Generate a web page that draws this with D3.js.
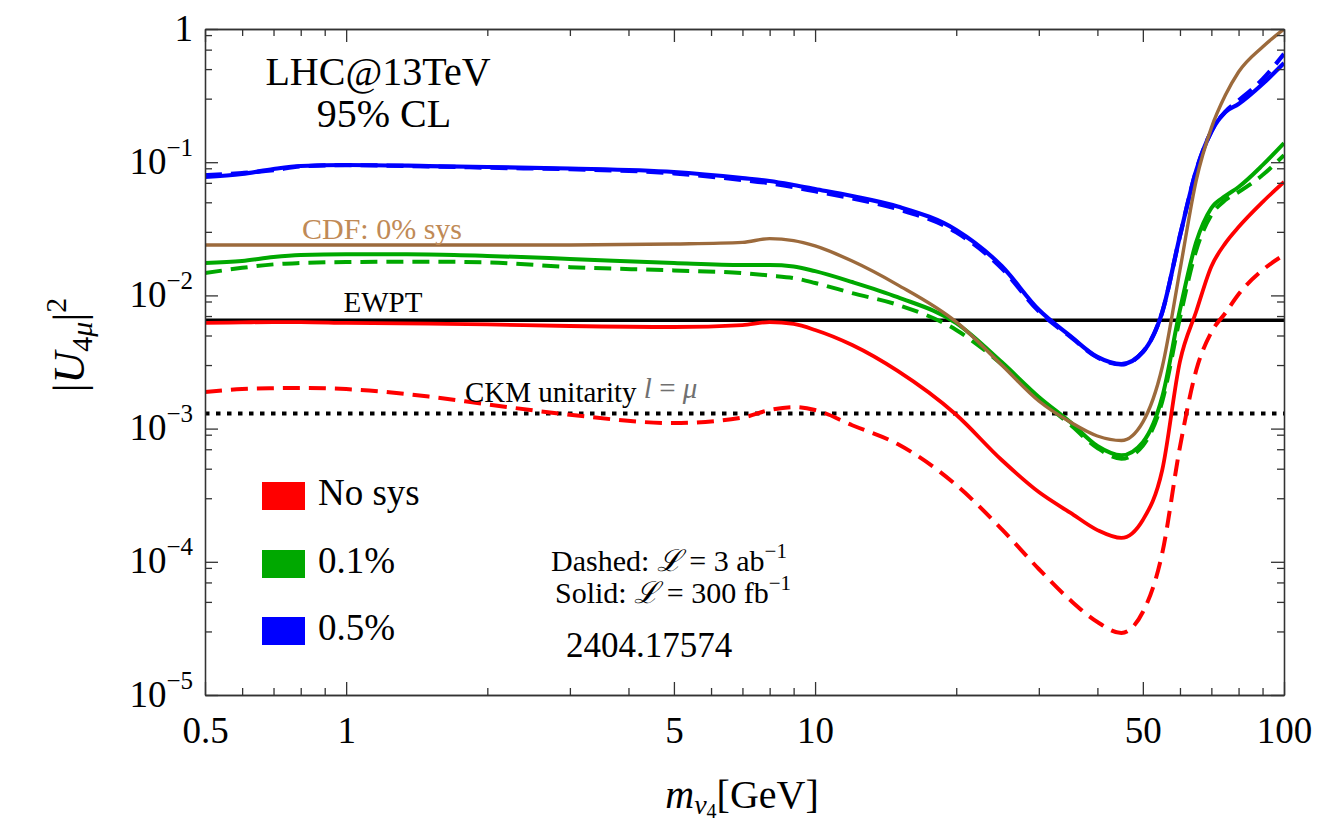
<!DOCTYPE html>
<html>
<head>
<meta charset="utf-8">
<script src="https://cdn.jsdelivr.net/npm/d3@7"></script>
<style>
  body { margin: 0; background: #fff; }
  svg { font-family: "Liberation Serif", "DejaVu Serif", serif; }
  .axis path, .axis line { stroke: #333; stroke-width: 1.3; }
  .axis text { fill: #000; font-family: "Liberation Serif", "DejaVu Serif", serif; }
</style>
</head>
<body>
<div id="chart"></div>
<script>
// m_nu4 grid [GeV]
const mass = [0.5, 0.6, 0.7, 0.8, 1, 1.5, 2, 3, 5, 7, 8, 9, 10, 12, 15, 20, 25, 30, 35, 40, 45, 50, 55, 60, 65, 70, 75, 80, 90, 100];

// |U_4mu|^2 limits
const noSysSolid = [0.00621, 0.00627, 0.00631, 0.00631, 0.00621, 0.00613, 0.00605, 0.00589, 0.00579, 0.00599, 0.00631, 0.00610, 0.00550, 0.00424, 0.00271, 0.00127, 0.000581, 0.000334, 0.000234, 0.000173, 0.000151, 0.000206, 0.000489, 0.0032, 0.0076, 0.0165, 0.0247, 0.0326, 0.0502, 0.0711];
const noSysDashed = [0.00188, 0.00198, 0.00201, 0.00202, 0.00198, 0.00174, 0.00152, 0.00127, 0.00110, 0.00121, 0.00138, 0.00145, 0.00138, 0.00106, 0.000766, 0.000377, 0.000176, 0.0000883, 0.0000516, 0.0000353, 0.0000292, 0.000042, 0.000116, 0.00073, 0.00275, 0.0053, 0.00738, 0.0102, 0.0155, 0.0201];
const sys01Solid = [0.0175, 0.0181, 0.0194, 0.0201, 0.0204, 0.0203, 0.0198, 0.0188, 0.0175, 0.0169, 0.0169, 0.0165, 0.0152, 0.0126, 0.0097, 0.0062, 0.00316, 0.00173, 0.00112, 0.00074, 0.00063, 0.00079, 0.00173, 0.0078, 0.0252, 0.0453, 0.0558, 0.0651, 0.095, 0.139];
const sys01Dashed = [0.0147, 0.0161, 0.0171, 0.0175, 0.0178, 0.0179, 0.0177, 0.0163, 0.0154, 0.0147, 0.0141, 0.0135, 0.0124, 0.0104, 0.0085, 0.0055, 0.00304, 0.00168, 0.00107, 0.000715, 0.000595, 0.000745, 0.00160, 0.0068, 0.0219, 0.0401, 0.0520, 0.0597, 0.0801, 0.113];
const sys05Solid = [0.0774, 0.0815, 0.0889, 0.0936, 0.0953, 0.0936, 0.092, 0.0897, 0.0844, 0.076, 0.0722, 0.0674, 0.0629, 0.0557, 0.0465, 0.031, 0.0166, 0.0078, 0.00496, 0.00345, 0.00305, 0.00376, 0.0075, 0.028, 0.087, 0.17, 0.238, 0.273, 0.386, 0.555];
const sys05Dashed = [0.080, 0.083, 0.087, 0.0930, 0.0950, 0.0930, 0.0910, 0.0885, 0.0825, 0.0735, 0.0695, 0.0650, 0.0605, 0.0535, 0.0445, 0.0298, 0.0160, 0.0076, 0.00490, 0.00342, 0.00303, 0.00376, 0.0075, 0.028, 0.087, 0.17, 0.24, 0.29, 0.42, 0.65];
const cdfSolid = [0.0239, 0.0239, 0.0239, 0.0239, 0.0239, 0.0239, 0.0239, 0.0239, 0.0243, 0.0250, 0.0267, 0.0258, 0.0235, 0.0181, 0.0120, 0.00632, 0.0030, 0.00161, 0.00112, 0.00088, 0.000814, 0.00112, 0.0029, 0.0155, 0.0735, 0.181, 0.319, 0.476, 0.733, 1.0];

const ewptLimit = 6.5e-3;
const ckmLimit = 1.3e-3;

const xMajor = [0.5, 1, 5, 10, 50, 100];
const xMinor = [0.6, 0.7, 0.8, 0.9, 2, 3, 4, 6, 7, 8, 9, 20, 30, 40, 60, 70, 80, 90];
const yMajor = [1e-5, 1e-4, 1e-3, 1e-2, 1e-1, 1];
const yMinorMantissa = [0.3, 0.5, 0.7, 0.9];
const yExponents = ["−5", "−4", "−3", "−2", "−1", ""];

const legendNames = ["No sys", "0.1%", "0.5%"];
const legendColors = ["#ff0000", "#00a800", "#0000ff"];

const W = 1342, H = 830;
const margin = {top: 29, right: 58, bottom: 135, left: 205};

const svg = d3.select("#chart").append("svg")
    .attr("width", W)
    .attr("height", H);

const x = d3.scaleLog().domain([0.5, 100]).range([margin.left, W - margin.right]);
const y = d3.scaleLog().domain([1e-5, 1]).range([H - margin.bottom, margin.top]);

const yMinor = [];
yMajor.slice(1).forEach(function(v) {
    yMinorMantissa.forEach(function(m) { yMinor.push(v * m); });
});

svg.append("clipPath").attr("id", "plotclip")
    .append("rect")
    .attr("x", x.range()[0]).attr("y", y.range()[1])
    .attr("width", x.range()[1] - x.range()[0])
    .attr("height", y.range()[0] - y.range()[1]);

const plot = svg.append("g").attr("clip-path", "url(#plotclip)");

// reference limits
plot.append("line")
    .attr("x1", x(0.5)).attr("x2", x(100))
    .attr("y1", y(ewptLimit)).attr("y2", y(ewptLimit))
    .attr("stroke", "#000").attr("stroke-width", 3.6);

plot.append("line")
    .attr("x1", x(0.5)).attr("x2", x(100))
    .attr("y1", y(ckmLimit)).attr("y2", y(ckmLimit))
    .attr("stroke", "#000").attr("stroke-width", 4)
    .attr("stroke-dasharray", "4.5,6.5");

const series = [
    {values: noSysSolid, color: "#ff0000", dash: null, w: 3.8},
    {values: noSysDashed, color: "#ff0000", dash: "17,9", w: 4},
    {values: sys01Solid, color: "#00a800", dash: null, w: 4},
    {values: sys01Dashed, color: "#00a800", dash: "17,9", w: 4},
    {values: sys05Solid, color: "#0000ff", dash: null, w: 4.2},
    {values: sys05Dashed, color: "#0000ff", dash: "17,9", w: 4.2},
    {values: cdfSolid, color: "#9c6a3c", dash: null, w: 3.4}
];

const line = d3.line()
    .x(function(d) { return x(d[0]); })
    .y(function(d) { return y(d[1]); })
    .curve(d3.curveMonotoneX);

series.forEach(function(s) {
    plot.append("path")
        .datum(mass.map(function(m, i) { return [m, s.values[i]]; }))
        .attr("d", line)
        .attr("fill", "none")
        .attr("stroke", s.color)
        .attr("stroke-width", s.w)
        .attr("stroke-dasharray", s.dash)
        .attr("stroke-linejoin", "round");
});

// axes: frame with inward ticks
function addAxis(axisFn, scale, pos, values, size) {
    const g = svg.append("g").attr("class", "axis")
        .attr("transform", pos)
        .call(axisFn(scale).tickValues(values).tickSizeInner(-size).tickSizeOuter(0).tickFormat(""));
    return g;
}

const bottomT = "translate(0," + y.range()[0] + ")";
const topT = "translate(0," + y.range()[1] + ")";
const leftT = "translate(" + x.range()[0] + ",0)";
const rightT = "translate(" + x.range()[1] + ",0)";

addAxis(d3.axisBottom, x, bottomT, xMinor, 7);
const xAxisMajor = addAxis(d3.axisBottom, x, bottomT, xMajor, 13);
addAxis(d3.axisTop, x, topT, xMinor, 7);
addAxis(d3.axisTop, x, topT, xMajor, 13);
addAxis(d3.axisLeft, y, leftT, yMinor, 7);
const yAxisMajor = addAxis(d3.axisLeft, y, leftT, yMajor, 13);
addAxis(d3.axisRight, y, rightT, yMinor, 7);
addAxis(d3.axisRight, y, rightT, yMajor, 13);

xAxisMajor.selectAll(".tick text")
    .attr("y", 0).attr("dy", 0)
    .attr("transform", "translate(0,48)")
    .style("font-size", "37px")
    .text(function(d) { return d3.format("~g")(d); });

yAxisMajor.selectAll(".tick text")
    .attr("x", -12).attr("dy", 0)
    .attr("y", 11)
    .attr("text-anchor", "end")
    .style("font-size", "37px")
    .text(null)
    .each(function(d, i) {
        const t = d3.select(this);
        if (d === 1) { t.text("1"); return; }
        t.append("tspan").text("10");
        t.append("tspan").attr("dy", -18).style("font-size", "25px").text(yExponents[i]);
    });

// axis titles
const xt = svg.append("text")
    .attr("x", 742).attr("y", 808)
    .attr("text-anchor", "middle")
    .style("font-size", "40px");
xt.append("tspan").style("font-style", "italic").text("m");
xt.append("tspan").attr("dy", 6).style("font-style", "italic").style("font-size", "28px").text("ν");
xt.append("tspan").attr("dy", 4).style("font-size", "20px").text("4");
xt.append("tspan").attr("dy", -10).text("[GeV]");

const yt = svg.append("text")
    .attr("transform", "translate(84,345) rotate(-90)")
    .attr("text-anchor", "middle")
    .style("font-size", "44px");
yt.append("tspan").text("|");
yt.append("tspan").style("font-style", "italic").text("U");
yt.append("tspan").attr("dy", 8).style("font-size", "30px").text("4");
yt.append("tspan").style("font-size", "30px").style("font-style", "italic").text("μ");
yt.append("tspan").attr("dy", -8).text("|");
yt.append("tspan").attr("dy", -18).style("font-size", "30px").text("2");

// annotations
svg.append("text").attr("x", 378).attr("y", 85)
    .attr("text-anchor", "middle").style("font-size", "40px").text("LHC@13TeV");
svg.append("text").attr("x", 384).attr("y", 127)
    .attr("text-anchor", "middle").style("font-size", "40px").text("95% CL");

svg.append("text").attr("x", 302).attr("y", 239)
    .style("font-size", "30px").attr("fill", "#c08a56").text("CDF: 0% sys");

svg.append("text").attr("x", 383).attr("y", 312)
    .attr("text-anchor", "middle").style("font-size", "29px").text("EWPT");

const ckmText = svg.append("text").attr("x", 465).attr("y", 402)
    .style("font-size", "29px");
ckmText.append("tspan").text("CKM unitarity ");
ckmText.append("tspan").attr("dy", -4).attr("fill", "#707070").style("font-style", "italic").text("l");
ckmText.append("tspan").attr("fill", "#707070").text(" = ");
ckmText.append("tspan").attr("fill", "#707070").style("font-style", "italic").text("μ");

const lumiD = svg.append("text").attr("x", 669).attr("y", 571)
    .attr("text-anchor", "middle").style("font-size", "30px");
lumiD.append("tspan").text("Dashed:  ");
lumiD.append("tspan").style("font-style", "italic").text("ℒ");
lumiD.append("tspan").text(" = 3 ab");
lumiD.append("tspan").attr("dy", -13).style("font-size", "21px").text("−1");

const lumiS = svg.append("text").attr("x", 673).attr("y", 603)
    .attr("text-anchor", "middle").style("font-size", "30px");
lumiS.append("tspan").text("Solid:  ");
lumiS.append("tspan").style("font-style", "italic").text("ℒ");
lumiS.append("tspan").text(" = 300 fb");
lumiS.append("tspan").attr("dy", -13).style("font-size", "21px").text("−1");

svg.append("text").attr("x", 649).attr("y", 657)
    .attr("text-anchor", "middle").style("font-size", "35px").text("2404.17574");

// legend
const legend = svg.append("g").selectAll("g")
    .data(legendNames)
    .enter().append("g")
    .attr("transform", function(d, i) { return "translate(262," + [482, 550, 617][i] + ")"; });

legend.append("rect")
    .attr("width", 43).attr("height", 28)
    .attr("fill", function(d, i) { return legendColors[i]; });

legend.append("text")
    .attr("x", 56).attr("y", 23)
    .style("font-size", "37px")
    .text(function(d) { return d; });
</script>
</body>
</html>
